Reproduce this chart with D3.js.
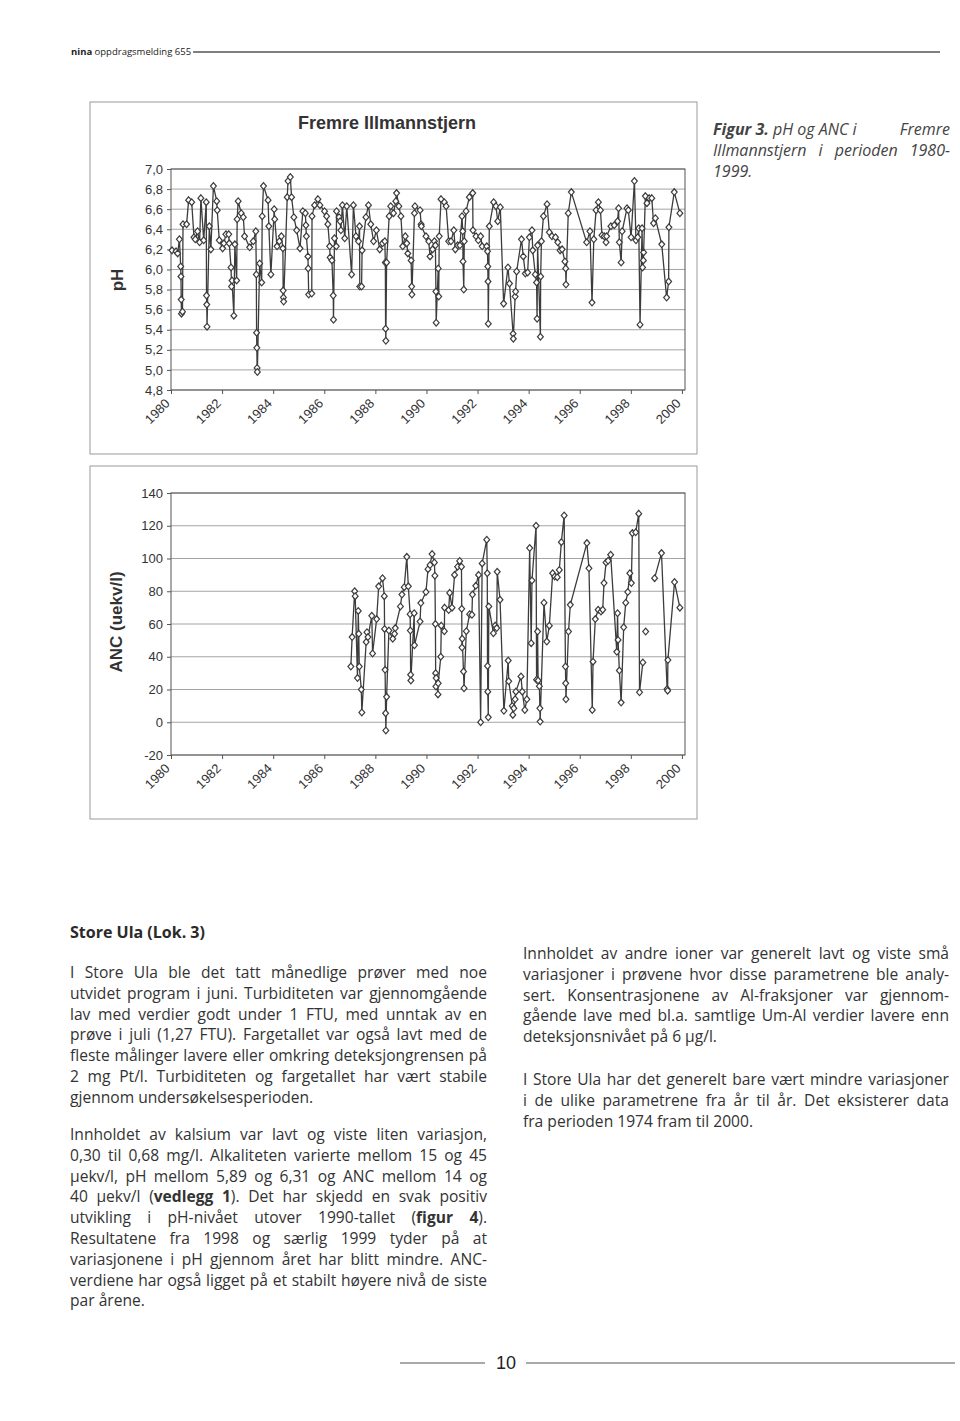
<!DOCTYPE html>
<html><head><meta charset="utf-8">
<script src="https://cdn.jsdelivr.net/npm/d3@7"></script>
<style>
body{margin:0;background:#fff;}
svg{display:block}
text{white-space:pre}
</style></head><body>
<svg id="page" width="960" height="1421"></svg>
<script>
// ---------- DATA ----------
const yearTicks = [1980,1982,1984,1986,1988,1990,1992,1994,1996,1998,2000];
const phTicks = [4.8,5.0,5.2,5.4,5.6,5.8,6.0,6.2,6.4,6.6,6.8,7.0];
const ancTicks = [-20,0,20,40,60,80,100,120,140];

const phDates = [1980.04,1980.20,1980.26,1980.33,1980.38,1980.39,1980.40,1980.41,1980.45,1980.47,1980.61,1980.69,1980.81,1980.90,1980.95,
1981.04,1981.12,1981.17,1981.28,1981.38,1981.39,1981.40,1981.41,1981.50,1981.56,1981.66,1981.79,1981.81,1981.89,
1982.02,1982.07,1982.15,1982.26,1982.28,1982.35,1982.37,1982.39,1982.46,1982.50,1982.57,1982.59,1982.63,1982.75,1982.83,1982.88,
1983.08,1983.22,1983.32,1983.34,1983.35,1983.36,1983.37,1983.38,1983.47,1983.55,1983.57,1983.62,1983.80,1983.83,1983.91,
1984.04,1984.06,1984.15,1984.24,1984.32,1984.38,1984.39,1984.40,1984.41,1984.55,1984.58,1984.67,1984.72,1984.81,1984.92,
1985.05,1985.16,1985.26,1985.28,1985.30,1985.36,1985.37,1985.39,1985.51,1985.52,1985.62,1985.75,1985.83,
1986.01,1986.09,1986.14,1986.21,1986.23,1986.30,1986.35,1986.36,1986.40,1986.47,1986.48,1986.58,1986.62,1986.65,1986.71,1986.80,1986.88,
1987.07,1987.14,1987.24,1987.34,1987.38,1987.39,1987.46,1987.48,1987.63,1987.73,1987.82,1987.93,
1988.04,1988.17,1988.28,1988.37,1988.39,1988.40,1988.41,1988.44,1988.54,1988.60,1988.71,1988.80,1988.83,1988.92,
1989.00,1989.07,1989.17,1989.23,1989.27,1989.40,1989.42,1989.43,1989.53,1989.55,1989.75,1989.79,1989.80,1989.98,
1990.09,1990.14,1990.24,1990.31,1990.35,1990.37,1990.38,1990.46,1990.48,1990.50,1990.57,1990.70,1990.77,1990.87,1990.96,
1991.07,1991.13,1991.22,1991.31,1991.39,1991.42,1991.43,1991.46,1991.48,1991.55,1991.68,1991.81,1991.82,1991.94,
1992.03,1992.12,1992.18,1992.36,1992.39,1992.40,1992.41,1992.42,1992.46,1992.63,1992.72,1992.79,1992.89,
1993.02,1993.19,1993.25,1993.39,1993.40,1993.47,1993.49,1993.53,1993.72,1993.79,1993.87,1993.96,
1994.03,1994.13,1994.16,1994.26,1994.31,1994.33,1994.35,1994.46,1994.47,1994.50,1994.58,1994.72,1994.81,1994.91,
1995.05,1995.14,1995.23,1995.31,1995.42,1995.45,1995.46,1995.55,1995.67,
1996.27,1996.40,1996.48,1996.55,1996.64,1996.73,1996.81,1996.87,1996.96,
1997.03,1997.05,1997.22,1997.35,1997.48,1997.52,1997.55,1997.62,1997.66,1997.85,1997.90,
1998.01,1998.14,1998.20,1998.27,1998.31,1998.36,1998.44,1998.46,1998.49,1998.50,1998.57,1998.63,1998.72,1998.82,1998.89,1998.96,
1999.21,1999.40,1999.48,1999.49,1999.70,1999.92];
const phValues = [6.19,6.18,6.16,6.30,6.03,5.93,5.70,5.56,5.58,6.45,6.45,6.69,6.67,6.32,6.30,
6.38,6.27,6.71,6.29,6.67,5.74,5.65,5.43,6.43,6.20,6.83,6.68,6.59,6.29,
6.21,6.26,6.35,6.35,6.26,6.02,5.83,5.89,5.54,6.25,5.89,6.50,6.68,6.56,6.52,6.33,
6.22,6.28,6.38,5.95,5.37,5.22,5.02,4.98,6.06,5.87,6.53,6.83,6.69,6.43,5.95,
6.60,6.50,6.23,6.28,6.33,6.21,5.79,5.72,5.68,6.72,6.88,6.92,6.72,6.52,6.39,
6.21,6.58,6.56,6.44,6.33,6.13,6.01,5.75,5.76,6.53,6.64,6.70,6.64,
6.58,6.53,6.45,6.23,6.12,6.09,5.74,5.50,6.31,6.23,6.58,6.52,6.48,6.39,6.64,6.31,6.63,
5.95,6.64,6.33,6.28,6.43,5.83,5.83,6.19,6.52,6.64,6.45,6.28,
6.39,6.20,6.26,6.28,6.07,5.41,5.29,6.07,6.53,6.63,6.56,6.68,6.76,6.63,
6.53,6.23,6.33,6.26,6.16,6.09,5.83,5.75,6.56,6.63,6.59,6.45,6.43,6.33,
6.28,6.13,6.20,6.28,6.24,5.78,5.47,6.01,5.73,6.33,6.70,6.67,6.63,6.28,6.28,
6.39,6.20,6.24,6.24,6.53,6.38,6.08,5.80,6.28,6.58,6.72,6.76,6.39,6.33,
6.29,6.33,6.23,6.23,6.18,6.03,5.88,5.46,6.43,6.67,6.63,6.48,6.62,
5.66,6.02,5.86,5.36,5.31,5.73,5.78,5.98,6.30,6.13,5.96,5.97,
6.32,6.39,6.19,5.95,5.87,5.51,6.24,5.33,5.93,6.28,6.53,6.65,6.37,6.33,
6.32,6.27,6.19,6.20,6.08,6.01,5.85,6.56,6.77,
6.27,6.38,5.67,6.30,6.59,6.67,6.59,6.34,6.33,
6.27,6.33,6.43,6.44,6.48,6.61,6.27,6.07,6.38,6.61,6.59,
6.32,6.88,6.29,6.32,6.41,5.45,6.41,6.02,6.09,6.17,6.73,6.66,6.71,6.71,6.46,6.51,
6.25,5.72,5.88,6.42,6.77,6.56];

const ancDates = [1987.04,1987.09,1987.19,1987.21,1987.30,1987.33,1987.35,1987.37,1987.45,1987.47,1987.64,1987.67,1987.71,1987.86,1987.89,
1988.05,1988.13,1988.28,1988.35,1988.36,1988.38,1988.40,1988.41,1988.44,1988.53,1988.68,1988.75,1988.78,1988.98,
1989.04,1989.13,1989.23,1989.29,1989.36,1989.37,1989.38,1989.39,1989.52,1989.53,1989.75,1989.78,1989.98,
1990.06,1990.14,1990.22,1990.31,1990.33,1990.35,1990.36,1990.37,1990.38,1990.45,1990.46,1990.56,1990.58,1990.70,1990.71,1990.87,1990.91,
1991.00,1991.10,1991.22,1991.30,1991.37,1991.38,1991.39,1991.40,1991.45,1991.47,1991.56,1991.69,1991.78,1991.80,1991.93,
1992.04,1992.12,1992.18,1992.36,1992.38,1992.39,1992.40,1992.42,1992.44,1992.62,1992.69,1992.75,1992.77,1992.88,
1993.03,1993.20,1993.22,1993.36,1993.38,1993.42,1993.47,1993.50,1993.70,1993.75,1993.85,1993.93,
1994.04,1994.10,1994.13,1994.29,1994.31,1994.35,1994.37,1994.42,1994.44,1994.45,1994.60,1994.71,1994.81,1994.94,
1995.02,1995.12,1995.20,1995.28,1995.39,1995.44,1995.45,1995.46,1995.56,1995.63,
1996.28,1996.36,1996.49,1996.52,1996.61,1996.72,1996.83,1996.90,1996.95,
1997.03,1997.11,1997.21,1997.45,1997.48,1997.50,1997.55,1997.62,1997.72,1997.80,1997.88,1997.96,
1998.02,1998.06,1998.19,1998.31,1998.34,1998.47,1998.52,1998.58,1998.75,
1998.93,1999.20,1999.42,1999.44,1999.45,1999.71,1999.92];
const ancValues = [34,52,80,77,27,68,54,34,20,6,49,55,52,65,42,
63,83,88,77,57,32,5.5,-5,15.5,56,51,54,57.5,70.7,
78,82.5,101,83,66,56,29,25.5,66.6,47,61.5,72.8,79.5,
93.5,96,102.7,97.6,89.5,60,30,21.8,27,17,23.8,40,59,55.6,70,68.5,79,
70,90,95,98.5,95,69.3,45.6,51,31,20.8,55.6,66,65.6,78,83.3,
90,0,97,111.5,91,34.4,18.7,3,70.7,54.4,59,57.5,91.9,74.8,
7,37.7,25,10,4.5,8.5,14,18.7,28,18.7,7.5,14,
106.4,48.3,86.6,120,26,55.4,25.5,22,8.5,0.4,73,49.3,59,91,
89,88.6,93,110,126.3,34,23.8,14,55.4,71.7,
109.4,94,7.5,37,63,68.7,67.6,68.7,85,
97.6,98.6,102.3,43,66.6,50.3,31.6,12,58,73,79.5,91,
85,115.5,116,127.4,18.3,36.5,null,55.4,null,
88,103.3,20.3,19.3,38,85.6,70];

const chartTitle = "Fremre Illmannstjern";
const captionLines = ["**Figur 3.** pH og ANC i   Fremre","Illmannstjern i perioden 1980-","1999."];
const captionModes = ["lastgap","full","none"];
const headerBold = "nina", headerRest = " oppdragsmelding 655";
const pageNumber = "10";
const heading = "Store Ula (Lok. 3)";
const leftPara1 = ["I Store Ula ble det tatt månedlige prøver med noe",
"utvidet program i juni. Turbiditeten var gjennomgående",
"lav med verdier godt under 1 FTU, med unntak av en",
"prøve i juli (1,27 FTU). Fargetallet var også lavt med de",
"fleste målinger lavere eller omkring deteksjongrensen på",
"2 mg Pt/l. Turbiditeten og fargetallet har vært stabile",
"gjennom undersøkelsesperioden."];
const leftPara2 = ["Innholdet av kalsium var lavt og viste liten variasjon,",
"0,30 til 0,68 mg/l. Alkaliteten varierte mellom 15 og 45",
"µekv/l, pH mellom 5,89 og 6,31 og ANC mellom 14 og",
"40 µekv/l (**vedlegg 1**). Det har skjedd en svak positiv",
"utvikling i pH-nivået utover 1990-tallet (**figur 4**).",
"Resultatene fra 1998 og særlig 1999 tyder på at",
"variasjonene i pH gjennom året har blitt mindre. ANC-",
"verdiene har også ligget på et stabilt høyere nivå de siste",
"par årene."];
const rightPara1 = ["Innholdet av andre ioner var generelt lavt og viste små",
"variasjoner i prøvene hvor disse parametrene ble analy-",
"sert. Konsentrasjonene av Al-fraksjoner var gjennom-",
"gående lave med bl.a. samtlige Um-Al verdier lavere enn",
"deteksjonsnivået på 6 µg/l."];
const rightPara2 = ["I Store Ula har det generelt bare vært mindre variasjoner",
"i de ulike parametrene fra år til år. Det eksisterer data",
"fra perioden 1974 fram til 2000."];

// ---------- DRAW ----------
const svg = d3.select('#page');
const chartFont = "'Liberation Sans', Arial, sans-serif";
const bodyFont = "'Open Sans', 'Noto Sans', sans-serif";
const ink = '#333';

// header
const hdr = svg.append('text').attr('x',71).attr('y',55).attr('font-family',bodyFont).attr('font-size',9.5).attr('fill','#222');
hdr.append('tspan').attr('font-weight',700).text(headerBold);
hdr.append('tspan').text(headerRest);
const hw = hdr.node().getComputedTextLength();
svg.append('line').attr('x1',71+hw+2).attr('x2',940).attr('y1',52).attr('y2',52).attr('stroke','#555').attr('stroke-width',1.3);

const diamond = {draw(ctx,size){const r=Math.sqrt(size)/2;ctx.moveTo(0,-r*1.15);ctx.lineTo(r,0);ctx.lineTo(0,r*1.15);ctx.lineTo(-r,0);ctx.closePath();}};

function drawChart(o){
  const g = svg.append('g');
  g.append('rect').attr('x',o.box[0]).attr('y',o.box[1]).attr('width',o.box[2]).attr('height',o.box[3])
    .attr('fill','none').attr('stroke','#9a9a9a').attr('stroke-width',1);
  const x = d3.scaleLinear().domain([1980,2000.12]).range([171,685]);
  const y = d3.scaleLinear().domain([o.ticks[0],o.ticks[o.ticks.length-1]]).range(o.yRange);
  g.selectAll('line.grid').data(o.ticks).join('line').attr('class','grid')
    .attr('x1',x.range()[0]).attr('x2',x.range()[1]).attr('y1',d=>y(d)).attr('y2',d=>y(d))
    .attr('stroke','#a4a4a4').attr('stroke-width',1);
  g.append('rect').attr('x',x.range()[0]).attr('y',y.range()[1]).attr('width',x.range()[1]-x.range()[0])
    .attr('height',y.range()[0]-y.range()[1]).attr('fill','none').attr('stroke','#555').attr('stroke-width',1);
  const ya = g.append('g').attr('transform',`translate(${x.range()[0]},0)`)
    .call(d3.axisLeft(y).tickValues(o.ticks).tickFormat(o.fmt).tickSize(4).tickPadding(4));
  ya.select('.domain').remove();
  ya.selectAll('line').attr('stroke','#555');
  ya.selectAll('text').attr('font-family',chartFont).attr('font-size',13).attr('fill',ink);
  const xa = g.append('g').attr('transform',`translate(0,${y.range()[0]})`)
    .call(d3.axisBottom(x).tickValues(yearTicks).tickSize(4).tickFormat(d3.format('d')));
  xa.select('.domain').remove();
  xa.selectAll('line').attr('stroke','#555');
  xa.selectAll('text').attr('x',0).attr('y',0).attr('dy','0.35em').attr('text-anchor','end')
    .attr('transform','translate(-4,11) rotate(-45)')
    .attr('font-family',chartFont).attr('font-size',13).attr('fill',ink);
  const data = o.dates.map((d,i)=>({d, v:o.values[i]}));
  g.append('path').datum(data)
    .attr('d', d3.line().defined(p=>p.v!=null).x(p=>x(p.d)).y(p=>y(p.v)))
    .attr('fill','none').attr('stroke','#3c3c3c').attr('stroke-width',1.3);
  g.selectAll('path.pt').data(data.filter(p=>p.v!=null)).join('path').attr('class','pt')
    .attr('transform',p=>`translate(${x(p.d)},${y(p.v)})`)
    .attr('d', d3.symbol(diamond, 34))
    .attr('fill','#fff').attr('stroke','#3c3c3c').attr('stroke-width',1.2);
  g.append('text').attr('transform',`translate(${o.labelPos[0]},${o.labelPos[1]}) rotate(-90)`)
    .attr('text-anchor','middle').attr('dominant-baseline','central')
    .attr('font-family',chartFont).attr('font-weight',700).attr('font-size',17).attr('fill',ink).text(o.label);
  return g;
}

const g1 = drawChart({box:[90,102,607,352], ticks:phTicks, yRange:[390,169], fmt:d=>d.toFixed(1).replace('.',','),
  dates:phDates, values:phValues, label:'pH', labelPos:[117,280]});
g1.append('text').attr('x',387).attr('y',129).attr('text-anchor','middle').attr('font-family',chartFont)
  .attr('font-weight',700).attr('font-size',18).attr('fill',ink).text(chartTitle);
drawChart({box:[90,466,607,353], ticks:ancTicks, yRange:[755,493], fmt:d=>String(d),
  dates:ancDates, values:ancValues, label:'ANC (uekv/l)', labelPos:[116,622]});

// rich text helper (word-level justification)
// mode: 'full' = spread all gaps, 'lastgap' = only the last gap stretches, 'none'
function richLine(parent, str, x, y, width, mode, size, fill, extra){
  const t = parent.append('text').attr('x',x).attr('y',y).attr('font-family',bodyFont)
    .attr('font-size',size).attr('fill',fill);
  if(extra) extra(t);
  const words = str.split(/ (?! )/);
  let bold = false;
  const nodes = words.map((w,i)=>{
    const wt = t.append('tspan');
    const parts = w.split('**');
    parts.forEach((p,k)=>{ if(k>0) bold=!bold; const txt = p + (k===parts.length-1 && i<words.length-1 ? ' ' : '');
      if(txt) wt.append('tspan').attr('font-weight',bold?700:null).text(txt); });
    return wt;
  });
  if(mode!=='none' && words.length>1){
    const ws = nodes.map(n=>n.node().getComputedTextLength());
    const total = d3.sum(ws);
    const n = words.length-1;
    let cx = x;
    nodes.forEach((nd,i)=>{
      nd.attr('x',cx);
      const extraGap = mode==='full' ? (width-total)/n : (i===n-1 ? (width-total) : 0);
      cx += ws[i]+extraGap;
    });
  }
  return t;
}

// caption
const capG = svg.append('g');
captionLines.forEach((l,i)=>richLine(capG,l,713,135+i*21,237,captionModes[i],16,'#444',t=>t.attr('font-style','italic')));

// body text
const body = svg.append('g');
body.append('text').attr('x',70).attr('y',938).attr('font-family',bodyFont).attr('font-weight',700)
  .attr('font-size',16).attr('fill','#2a2a2a').text(heading);
function para(lines,x,y0,w){ lines.forEach((l,i)=>richLine(body,l,x,y0+i*20.8,w,i<lines.length-1?'full':'none',15.6,'#333')); }
para(leftPara1,70,978,417);
para(leftPara2,70,1140,417);
para(rightPara1,523,959,426);
para(rightPara2,523,1085,426);

// footer
svg.append('line').attr('x1',400).attr('x2',485).attr('y1',1363).attr('y2',1363).attr('stroke','#555').attr('stroke-width',1.2);
svg.append('line').attr('x1',526).attr('x2',955).attr('y1',1363).attr('y2',1363).attr('stroke','#555').attr('stroke-width',1.2);
svg.append('text').attr('x',506).attr('y',1369).attr('text-anchor','middle').attr('font-family',chartFont)
  .attr('font-size',18).attr('fill','#222').text(pageNumber);
</script>
</body></html>
